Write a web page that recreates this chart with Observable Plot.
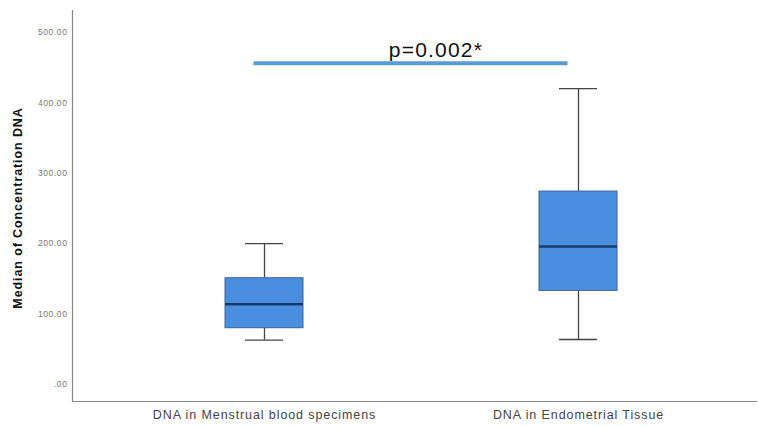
<!DOCTYPE html>
<html>
<head>
<meta charset="utf-8">
<script src="https://cdn.jsdelivr.net/npm/d3@7"></script>
<script src="https://cdn.jsdelivr.net/npm/@observablehq/plot@0.6"></script>
<style>
  html, body { margin: 0; padding: 0; background: #fff; }
  #chart svg { display: block; }
  g[aria-label="x-axis tick label"] text { letter-spacing: 0.9px; }
  g[aria-label="y-axis tick label"] text { letter-spacing: 0.6px; }
</style>
</head>
<body>
<div id="chart"></div>
<script>
const categories = ["DNA in Menstrual blood specimens", "DNA in Endometrial Tissue"];
const whiskerLow = [63, 64];
const q1 = [80, 133];
const median = [114, 196];
const q3 = [151, 274];
const whiskerHigh = [200, 420];
const yTicks = [0, 100, 200, 300, 400, 500];
const yTitle = "Median of Concentration DNA";
const pLabel = "p=0.002*";
const pLineY = 456;
const pLabelY = 474;

const boxes = categories.map((c, i) => ({
  cat: c, lo: whiskerLow[i], q1: q1[i], med: median[i], q3: q3[i], hi: whiskerHigh[i]
}));

const inset = 118;
const chart = Plot.plot({
  width: 758,
  height: 427,
  marginLeft: 72,
  marginRight: 1,
  marginTop: 10,
  marginBottom: 26,
  style: { fontFamily: "'Liberation Sans', Arial, sans-serif", background: "#fff" },
  x: { type: "band", domain: categories, range: [107, 735], padding: 0, label: null },
  y: { domain: [-24, 531], label: null },
  marks: [
    Plot.ruleY([-24], { stroke: "#888", strokeWidth: 1.2 }),
    Plot.frame({ anchor: "left", stroke: "#888", strokeWidth: 1.2 }),
    Plot.axisY(yTicks, {
      tickSize: 0, tickPadding: 5, fontSize: 8.5, fill: "#777",
      tickFormat: d => d === 0 ? ".00" : d.toFixed(2), label: null
    }),
    Plot.axisX({ tickSize: 0, tickPadding: 9, fontSize: 12.5, fill: "#444", label: null }),
    Plot.text([yTitle], {
      frameAnchor: "left", textAnchor: "middle", dx: -55, dy: 2, rotate: -90,
      fontSize: 12.5, fontWeight: "bold", fill: "#111"
    }),
    // whiskers
    Plot.ruleX(boxes, { x: "cat", y1: "lo", y2: "q1", stroke: "#444", strokeWidth: 1.3 }),
    Plot.ruleX(boxes, { x: "cat", y1: "q3", y2: "hi", stroke: "#444", strokeWidth: 1.3 }),
    Plot.tickY(boxes, { x: "cat", y: "lo", stroke: "#444", strokeWidth: 1.3, insetLeft: 138, insetRight: 138 }),
    Plot.tickY(boxes, { x: "cat", y: "hi", stroke: "#444", strokeWidth: 1.3, insetLeft: 138, insetRight: 138 }),
    // boxes
    Plot.barY(boxes, { x: "cat", y1: "q1", y2: "q3", fill: "#4a8ee0", stroke: "#3d6594", strokeWidth: 1, insetLeft: inset, insetRight: inset }),
    Plot.tickY(boxes, { x: "cat", y: "med", stroke: "#163a6e", strokeWidth: 2.5, insetLeft: inset, insetRight: inset }),
    // significance annotation
    Plot.link([0], { x1: () => categories[0], x2: () => categories[1], y1: () => pLineY, y2: () => pLineY, dx: -11, stroke: "#5b9bd5", strokeWidth: 4 }),
    Plot.text([pLabel], { y: () => pLabelY, text: d => d, dx: 21, fontSize: 21, fill: "#111" })
  ]
});
d3.select(chart).selectAll("text").filter(function() { return this.textContent === yTitle; }).style("letter-spacing", "0.9px");
d3.select(chart).selectAll("text").filter(function() { return this.textContent === pLabel; }).style("letter-spacing", "1.2px");
document.getElementById("chart").appendChild(chart);
</script>
</body>
</html>
